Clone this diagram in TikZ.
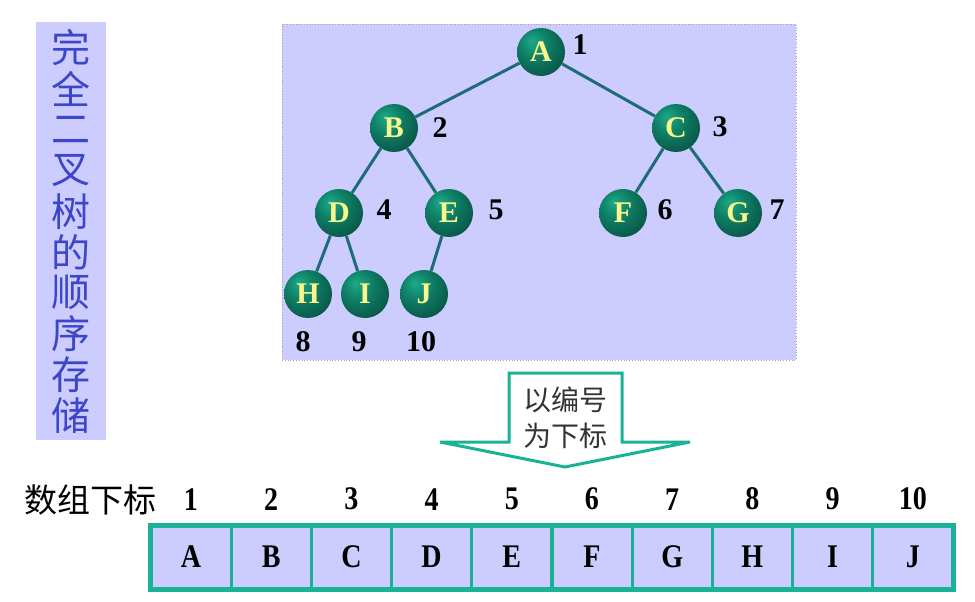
\documentclass[tikz,border=0pt]{standalone}
\usepackage{fontspec}
\setmainfont{Liberation Serif}
\newfontfamily\cjk{Noto Sans CJK SC}
\newfontfamily\narrowserif[FakeStretch=0.85]{Liberation Serif}
\usetikzlibrary{positioning}

\definecolor{lavender}{RGB}{204,204,255}
\definecolor{titleblue}{RGB}{60,70,200}
\definecolor{edgeteal}{RGB}{30,108,118}
\definecolor{rimteal}{RGB}{26,178,148}
\definecolor{ballhi}{RGB}{28,170,136}
\definecolor{ballmid}{RGB}{14,125,100}
\definecolor{balldark}{RGB}{8,72,60}
\definecolor{letteryellow}{RGB}{250,246,140}

\pgfdeclareradialshading{tealball}{\pgfpoint{-10bp}{12bp}}{%
  color(0bp)=(ballhi); color(16bp)=(ballmid); color(40bp)=(balldark); color(70bp)=(balldark)}

\tikzset{
  treenode/.style={circle, minimum size=48pt, inner sep=0pt, shading=tealball,
    text=letteryellow, font=\bfseries\fontsize{30}{30}\selectfont},
  num/.style={inner sep=0pt, font=\bfseries\fontsize{30}{30}\selectfont},
  link/.style={draw=edgeteal, line width=3pt},
  cell/.style={draw=rimteal, line width=3pt, fill=lavender, minimum width=80pt,
    minimum height=62pt, inner sep=0pt, font=\narrowserif\bfseries\fontsize{33}{33}\selectfont},
  titlech/.style={inner sep=0pt, text=titleblue, font=\cjk\fontsize{39}{39}\selectfont}
}

\begin{document}
\begin{tikzpicture}[x=1pt, y=-1pt]
\useasboundingbox (0,0) rectangle (975,602);

% title strip
\node[fill=lavender, minimum width=70pt, minimum height=418pt, inner sep=0pt] (tb) at (71,231) {};
\foreach \ch [count=\k] in {完,全,二,叉,树,的,顺,序,存,储}
  \node[titlech] (t\k) at (71,{48+40.8*(\k-1)}) {\ch};

% tree panel
\node[fill=lavender, draw=gray!70, dotted, line width=0.8pt, minimum width=514pt,
  minimum height=336pt, inner sep=0pt] (panel) at (539,192) {};

\node[treenode] (A) at (541,52) {A};
\node[treenode] (B) at (394,128) {B};
\node[treenode] (C) at (676,128) {C};
\node[treenode] (D) at (339,213) {D};
\node[treenode] (E) at (449,213) {E};
\node[treenode] (F) at (623,213) {F};
\node[treenode] (G) at (738,213) {G};
\node[treenode] (H) at (308,294) {H};
\node[treenode] (I) at (365,294) {I};
\node[treenode] (J) at (424,294) {J};

\draw[link] (A) -- (B);
\draw[link] (A) -- (C);
\draw[link] (B) -- (D);
\draw[link] (B) -- (E);
\draw[link] (C) -- (F);
\draw[link] (C) -- (G);
\draw[link] (D) -- (H);
\draw[link] (D) -- (I);
\draw[link] (E) -- (J);

\node[num] (n1) at (580,45) {1};
\node[num] (n2) at (440,128) {2};
\node[num] (n3) at (720,127) {3};
\node[num] (n4) at (384,210) {4};
\node[num] (n5) at (496,210) {5};
\node[num] (n6) at (665,210) {6};
\node[num] (n7) at (777,210) {7};
\node[num] (n8) at (303,342) {8};
\node[num] (n9) at (359,342) {9};
\node[num] (n10) at (421,342) {10};

% block arrow
\draw[draw=rimteal, line width=3pt, fill=white, line join=miter]
  (509,373) -- (622,373) -- (622,442) -- (690,442) -- (565,467)
  -- (440,442) -- (509,442) -- cycle;
\node[align=center, text=black!80, font=\cjk\fontsize{28}{36}\selectfont] (rule) at (565,418)
  {以编号\\为下标};

% array
\node[font=\cjk\fontsize{33}{33}\selectfont, inner sep=0pt] (idxlabel) at (90,500) {数组下标};
\foreach \L [count=\i] in {A,B,C,D,E,F,G,H,I,J} {
  \node[cell] (c\i) at ({191+80.2*(\i-1)},557) {\L};
  \node[num, font=\narrowserif\bfseries\fontsize{33}{33}\selectfont, above=14pt of c\i] (d\i) {\i};
}
\draw[draw=rimteal, line width=4pt] (c1.north west) rectangle (c10.south east);
\end{tikzpicture}
\end{document}
